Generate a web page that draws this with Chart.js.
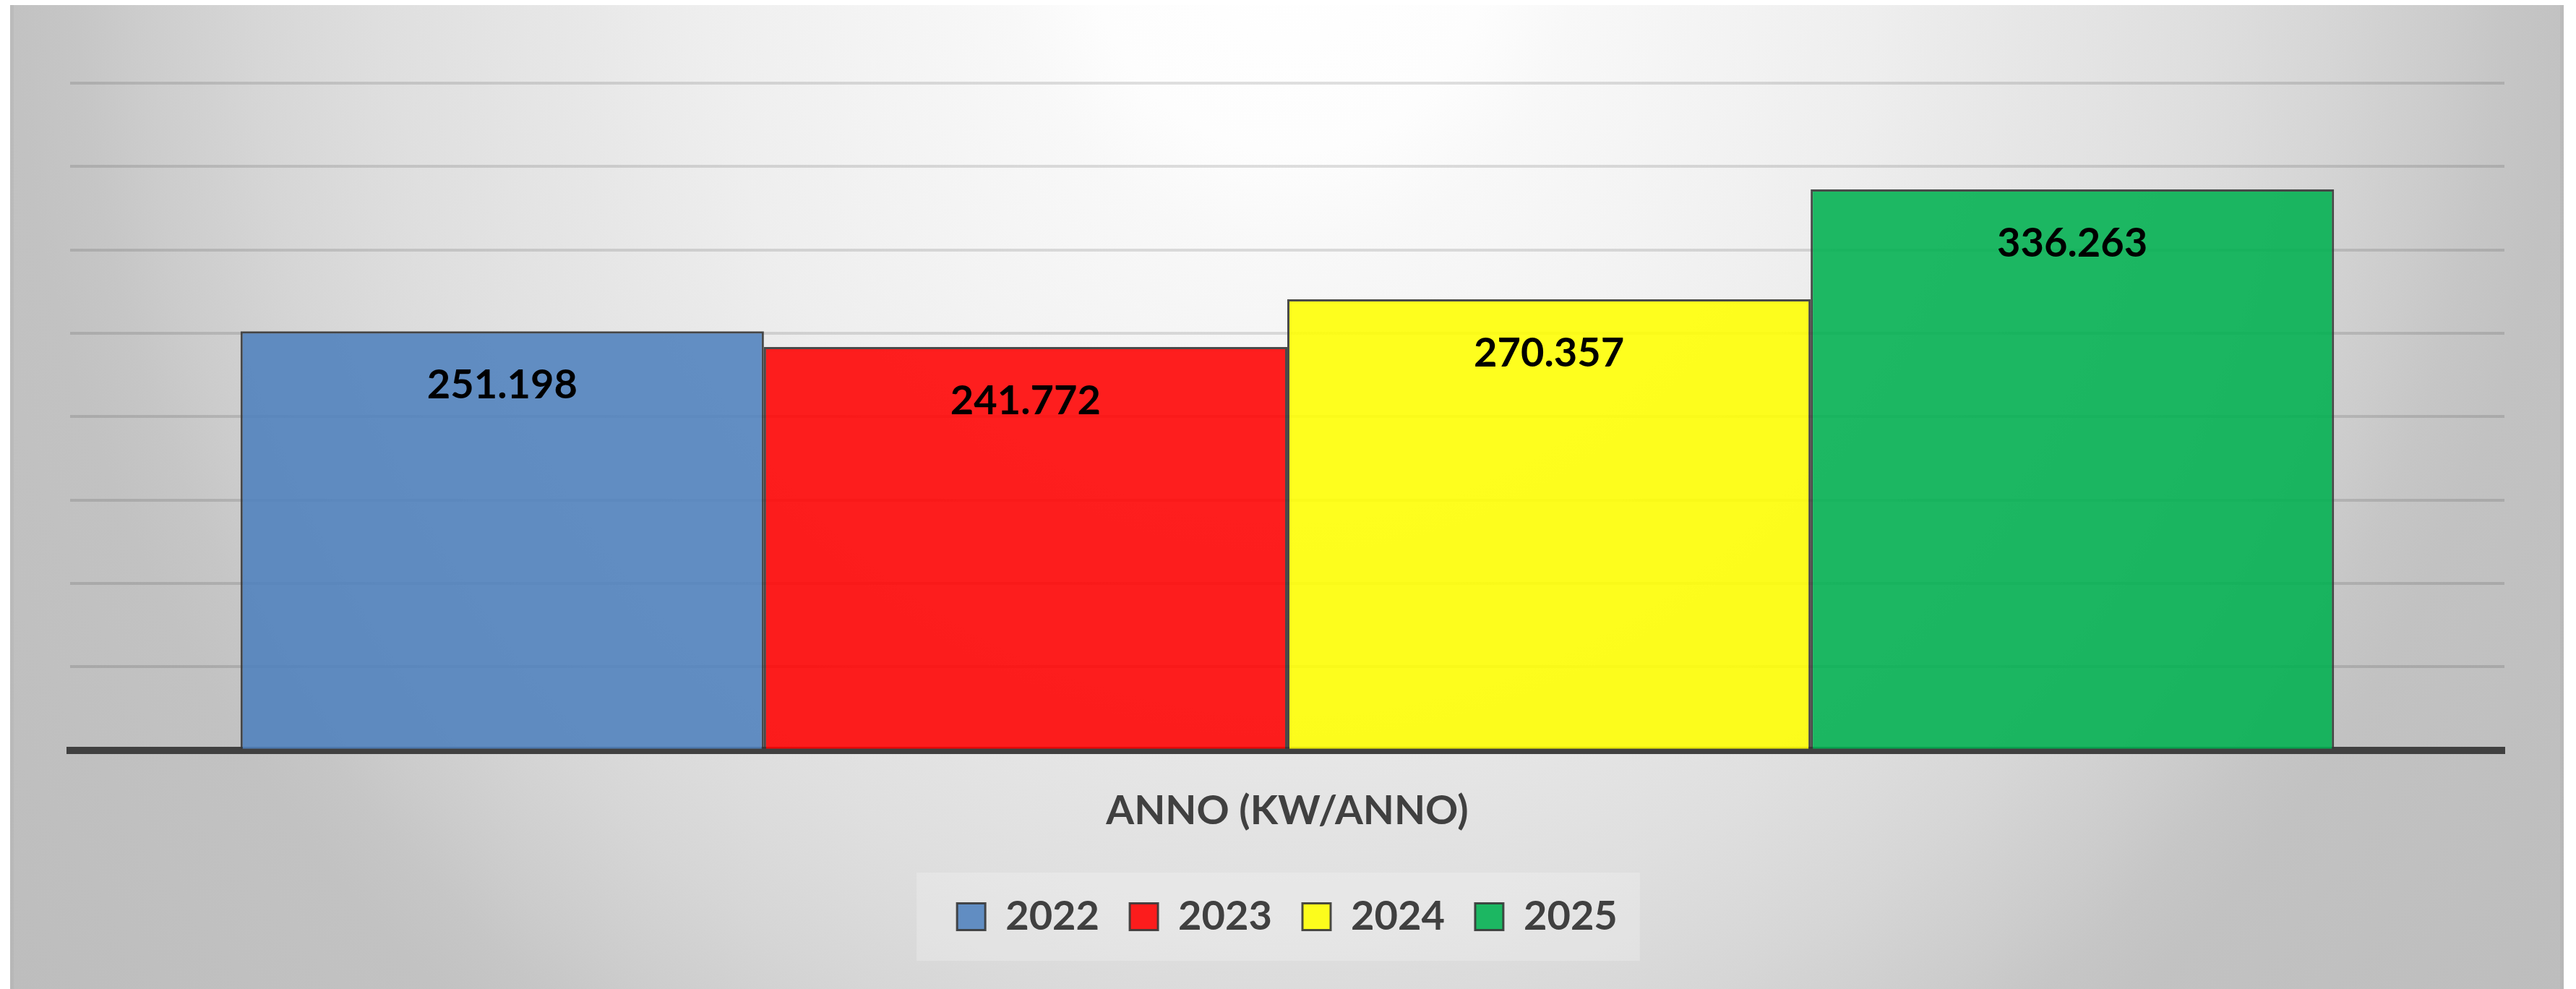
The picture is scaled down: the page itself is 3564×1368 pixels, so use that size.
<!DOCTYPE html>
<html lang="it">
<head>
<meta charset="utf-8">
<title>ANNO (KW/ANNO)</title>
<script src="https://cdn.jsdelivr.net/npm/chart.js@4.4.1/dist/chart.umd.min.js"></script>
<style>
    html, body { margin: 0; padding: 0; background: #ffffff; overflow: hidden; }
    #chartBox { position: absolute; left: 14px; top: 7px; width: 3533px; height: 1361px; }
    canvas { display: block; }
</style>
</head>
<body>
<div id="chartBox"><canvas id="kwChart" width="3533" height="1361"></canvas></div>
<script>
const categories = ["ANNO"];
const years = ["2022", "2023", "2024", "2025"];
const kwValues = [251198, 241772, 270357, 336263];
const barColors = ["rgba(79, 129, 189, 0.88)", "rgba(255, 0, 0, 0.88)", "rgba(255, 255, 0, 0.88)", "rgba(0, 176, 80, 0.88)"];
const axisTitle = "ANNO (KW/ANNO)";
const yMin = 0;
const yMax = 400000;
const yStep = 50000;

const FONT = "Lato, 'Open Sans', sans-serif";
const TEXT_DARK = "#404040";

// italian thousands separator: 251198 -> 251.198
function formatValue(n) {
    return String(n).replace(/\B(?=(\d{3})+(?!\d))/g, ".");
}

// soft grey radial background, light at the top centre
const backgroundPlugin = {
    id: "backgroundPlugin",
    beforeDraw(chart) {
        const ctx = chart.ctx;
        const stops = [
            [0, "#ffffff"], [280, "#fdfdfd"], [400, "#f8f8f8"], [620, "#f3f3f3"],
            [820, "#eeeeee"], [980, "#e8e8e8"], [1130, "#e3e3e3"], [1250, "#dfdfdf"],
            [1340, "#dbdbdb"], [1440, "#d6d6d6"], [1520, "#d1d1d1"], [1600, "#cccccc"],
            [1680, "#c6c6c6"], [1770, "#c2c2c2"], [2300, "#bcbcbc"]
        ];
        const radius = 2300;
        ctx.save();
        ctx.translate(chart.width / 2 + 4, -107);
        ctx.scale(1, 1 / 0.9);
        const g = ctx.createRadialGradient(0, 0, 0, 0, 0, radius);
        stops.forEach(([d, c]) => g.addColorStop(d / radius, c));
        ctx.fillStyle = g;
        ctx.fillRect(-6000, -6000, 12000, 12000);
        ctx.restore();

        // faint darker edges left and right
        ctx.save();
        ctx.fillStyle = "rgba(0, 0, 0, 0.03)";
        ctx.fillRect(0, 0, 5, chart.height);
        ctx.fillRect(chart.width - 5, 0, 5, chart.height);
        ctx.restore();

        // lighter panel behind the legend
        const boxes = chart.legend && chart.legend.legendHitBoxes;
        if (boxes && boxes.length) {
            const first = boxes[0];
            const last = boxes[boxes.length - 1];
            const midY = first.top + first.height / 2;
            ctx.save();
            ctx.fillStyle = "rgba(255, 255, 255, 0.22)";
            ctx.fillRect(first.left - 56, midY - 61, (last.left + last.width + 31) - (first.left - 56), 122);
            ctx.restore();
        }
    }
};

// value written inside each bar, below its top
const valueLabelPlugin = {
    id: "valueLabelPlugin",
    afterDatasetsDraw(chart) {
        const ctx = chart.ctx;
        ctx.save();
        ctx.font = "bold 56px " + FONT;
        ctx.fillStyle = "#000000";
        ctx.textAlign = "center";
        ctx.textBaseline = "middle";
        chart.data.datasets.forEach((ds, i) => {
            const meta = chart.getDatasetMeta(i);
            meta.data.forEach((bar, j) => {
                ctx.fillText(formatValue(ds.data[j]), bar.x, bar.y + 75);
            });
        });
        ctx.restore();
    }
};

function drawChart() {
    const ctx = document.getElementById("kwChart").getContext("2d");
    new Chart(ctx, {
        type: "bar",
        data: {
            labels: categories,
            datasets: years.map((year, i) => ({
                label: year,
                data: [kwValues[i]],
                backgroundColor: barColors[i],
                borderColor: "rgba(55, 55, 55, 0.9)",
                borderWidth: 3,
                categoryPercentage: 0.86,
                barPercentage: 1
            }))
        },
        options: {
            responsive: false,
            animation: false,
            devicePixelRatio: 1,
            layout: {
                padding: { top: 108, left: 83, right: 82, bottom: 62 }
            },
            scales: {
                x: {
                    z: 1,
                    ticks: { display: false },
                    grid: { display: false, drawTicks: false },
                    border: { display: true, color: TEXT_DARK, width: 10 },
                    title: {
                        display: true,
                        text: axisTitle,
                        color: TEXT_DARK,
                        font: { family: FONT, size: 56, weight: "bold" },
                        padding: { top: 51, bottom: 42 }
                    }
                },
                y: {
                    min: yMin,
                    max: yMax,
                    ticks: { display: false, stepSize: yStep },
                    grid: { color: "rgba(0, 0, 0, 0.12)", lineWidth: 4, drawTicks: false },
                    border: { display: false }
                }
            },
            plugins: {
                legend: {
                    position: "bottom",
                    labels: {
                        color: TEXT_DARK,
                        font: { family: FONT, size: 56, weight: "bold" },
                        boxWidth: 39,
                        boxHeight: 37,
                        padding: 42
                    }
                },
                tooltip: { enabled: false }
            }
        },
        plugins: [backgroundPlugin, valueLabelPlugin]
    });
}

if (document.fonts && document.fonts.load) {
    document.fonts.load("bold 56px Lato").then(drawChart, drawChart);
} else {
    drawChart();
}
</script>
</body>
</html>
